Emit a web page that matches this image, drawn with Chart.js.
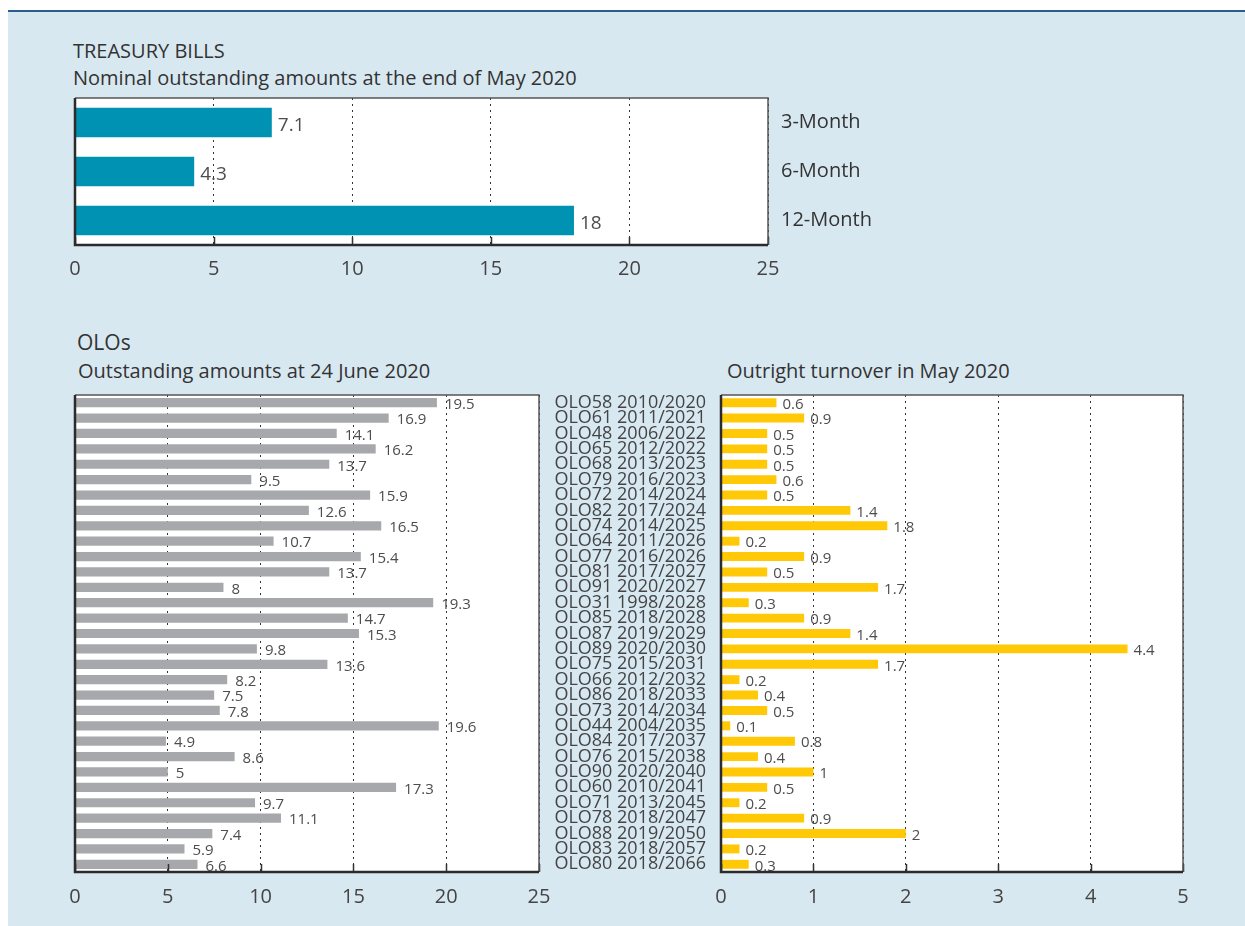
<!DOCTYPE html>
<html lang="en">
<head>
<meta charset="UTF-8">
<title>Treasury bills and OLOs</title>
<script src="https://cdn.jsdelivr.net/npm/chart.js@4.4.0/dist/chart.umd.min.js"></script>
<style>
  body { margin: 0; background: #fff; font-family: "Open Sans", sans-serif; color: #333; }
  #panel { position: absolute; left: 8px; top: 10px; width: 1237px; height: 916px;
           background: #d8e8f1; border-top: 2px solid #2a5d8c; }
  .ttl { position: absolute; font-size: 20px; color: #333; white-space: nowrap; line-height: 27px; }
  canvas { position: absolute; }
</style>
</head>
<body>
<div id="panel"></div>

<div class="ttl" style="left:73px; top:37px;">TREASURY BILLS</div>
<div class="ttl" style="left:73px; top:64px;">Nominal outstanding amounts at the end of May 2020</div>
<div class="ttl" style="left:77px; top:329px; font-size:21px;">OLOs</div>
<div class="ttl" style="left:78px; top:357px;">Outstanding amounts at 24 June 2020</div>
<div class="ttl" style="left:727px; top:357px;">Outright turnover in May 2020</div>

<canvas id="billsChart" width="840" height="200" style="left:60px; top:90px;"></canvas>
<canvas id="oloChart" width="500" height="530" style="left:60px; top:385px;"></canvas>
<canvas id="turnChart" width="700" height="530" style="left:540px; top:385px;"></canvas>

<script>
// ---- data ----
var billLabels = ['3-Month', '6-Month', '12-Month'];
var billValues = [7.1, 4.3, 18];

var oloLabels = [
  'OLO58 2010/2020', 'OLO61 2011/2021', 'OLO48 2006/2022', 'OLO65 2012/2022',
  'OLO68 2013/2023', 'OLO79 2016/2023', 'OLO72 2014/2024', 'OLO82 2017/2024',
  'OLO74 2014/2025', 'OLO64 2011/2026', 'OLO77 2016/2026', 'OLO81 2017/2027',
  'OLO91 2020/2027', 'OLO31 1998/2028', 'OLO85 2018/2028', 'OLO87 2019/2029',
  'OLO89 2020/2030', 'OLO75 2015/2031', 'OLO66 2012/2032', 'OLO86 2018/2033',
  'OLO73 2014/2034', 'OLO44 2004/2035', 'OLO84 2017/2037', 'OLO76 2015/2038',
  'OLO90 2020/2040', 'OLO60 2010/2041', 'OLO71 2013/2045', 'OLO78 2018/2047',
  'OLO88 2019/2050', 'OLO83 2018/2057', 'OLO80 2018/2066'
];
var oloOutstanding = [19.5, 16.9, 14.1, 16.2, 13.7, 9.5, 15.9, 12.6, 16.5, 10.7, 15.4, 13.7, 8, 19.3, 14.7, 15.3,
                      9.8, 13.6, 8.2, 7.5, 7.8, 19.6, 4.9, 8.6, 5, 17.3, 9.7, 11.1, 7.4, 5.9, 6.6];
var oloTurnover = [0.6, 0.9, 0.5, 0.5, 0.5, 0.6, 0.5, 1.4, 1.8, 0.2, 0.9, 0.5, 1.7, 0.3, 0.9, 1.4,
                   4.4, 1.7, 0.2, 0.4, 0.5, 0.1, 0.8, 0.4, 1, 0.5, 0.2, 0.9, 2, 0.2, 0.3];

var billTicks = [0, 25, 5];   // min, max, step
var oloTicks = [0, 25, 5];
var turnTicks = [0, 5, 1];

// value labels, plot frame and the little inner tick marks
var framePlugin = {
  id: 'frame',
  afterDatasetsDraw: function(chart, args, opts) {
    var ctx = chart.ctx, a = chart.chartArea, xs = chart.scales.x;
    var vals = chart.data.datasets[0].data;
    ctx.save();
    ctx.font = opts.font;
    ctx.fillStyle = '#4d4d4d';
    ctx.textAlign = 'left';
    ctx.textBaseline = 'middle';
    chart.getDatasetMeta(0).data.forEach(function(bar, i) {
      ctx.fillText(String(vals[i]), bar.x + opts.dx, bar.y + opts.dy);
    });

    // inner ticks on the bottom axis
    ctx.strokeStyle = '#333';
    ctx.lineWidth = 1.5;
    ctx.beginPath();
    xs.ticks.forEach(function(t) {
      var px = Math.round(xs.getPixelForValue(t.value)) + 0.5;
      ctx.moveTo(px, a.bottom);
      ctx.lineTo(px, a.bottom - 8);
    });
    ctx.stroke();

    // top / right edges
    ctx.strokeStyle = '#555';
    ctx.lineWidth = 1.5;
    ctx.beginPath();
    ctx.moveTo(a.left, a.top);
    ctx.lineTo(a.right, a.top);
    ctx.lineTo(a.right, a.bottom);
    ctx.stroke();

    // left / bottom axes
    ctx.strokeStyle = '#2b2b2b';
    ctx.lineWidth = 2.5;
    ctx.beginPath();
    ctx.moveTo(a.left, a.top);
    ctx.lineTo(a.left, a.bottom);
    ctx.lineTo(a.right, a.bottom);
    ctx.stroke();
    ctx.restore();
  }
};

// white plot background
var bgPlugin = {
  id: 'plotBg',
  beforeDraw: function(chart) {
    var a = chart.chartArea, ctx = chart.ctx;
    ctx.save();
    ctx.fillStyle = '#fff';
    ctx.fillRect(a.left, a.top, a.right - a.left, a.bottom - a.top);
    ctx.restore();
  }
};

// fixed axis size, no automatic label padding -> plot area = canvas minus layout padding
function fixSize(dim, v) {
  return function(s) {
    s[dim] = v;
    s.paddingTop = 0; s.paddingBottom = 0; s.paddingLeft = 0; s.paddingRight = 0;
  };
}

function xScale(t, h, pad) {
  return {
    type: 'linear', min: t[0], max: t[1],
    ticks: { stepSize: t[2], maxRotation: 0, minRotation: 0, color: '#444', padding: pad,
             font: { family: 'Open Sans', size: 20 } },
    grid: { color: '#333', lineWidth: 1, drawTicks: false },
    border: { display: false, dash: [2, 4] },
    afterFit: fixSize('height', h)
  };
}

function makeChart(id, labels, values, colour, pct, xs, ys, pad, lbl) {
  return new Chart(document.getElementById(id), {
    type: 'bar',
    data: {
      labels: labels,
      datasets: [{ data: values, backgroundColor: colour, barPercentage: pct, categoryPercentage: 1 }]
    },
    options: {
      indexAxis: 'y',
      responsive: false,
      animation: false,
      events: [],
      layout: { padding: pad },
      plugins: { legend: { display: false }, tooltip: { enabled: false }, frame: lbl },
      scales: { x: xs, y: ys }
    },
    plugins: [bgPlugin, framePlugin]
  });
}

makeChart('billsChart', billLabels, billValues, '#0092b2', 0.6,
  xScale(billTicks, 45, 12),
  { position: 'right', grid: { display: false }, border: { display: false },
    ticks: { color: '#333', padding: 5, font: { family: 'Open Sans', size: 20 } },
    afterFit: fixSize('width', 132) },
  { left: 15, top: 8, right: 0, bottom: 0 },
  { font: '19px "Open Sans"', dx: 6, dy: 3 });

makeChart('oloChart', oloLabels, oloOutstanding, '#a7a8ab', 0.6,
  xScale(oloTicks, 43, 13),
  { grid: { display: false }, border: { display: false }, ticks: { display: false },
    afterFit: fixSize('width', 0) },
  { left: 15, top: 10, right: 21, bottom: 0 },
  { font: '15px "Open Sans"', dx: 8, dy: 2 });

makeChart('turnChart', oloLabels, oloTurnover, '#ffc907', 0.58,
  xScale(turnTicks, 43, 13),
  { grid: { display: false }, border: { display: false },
    ticks: { autoSkip: false, color: '#444', padding: 7, font: { family: 'Open Sans', size: 18 } },
    afterFit: fixSize('width', 181) },
  { left: 0, top: 10, right: 57, bottom: 0 },
  { font: '15px "Open Sans"', dx: 6, dy: 2 });
</script>
</body>
</html>
